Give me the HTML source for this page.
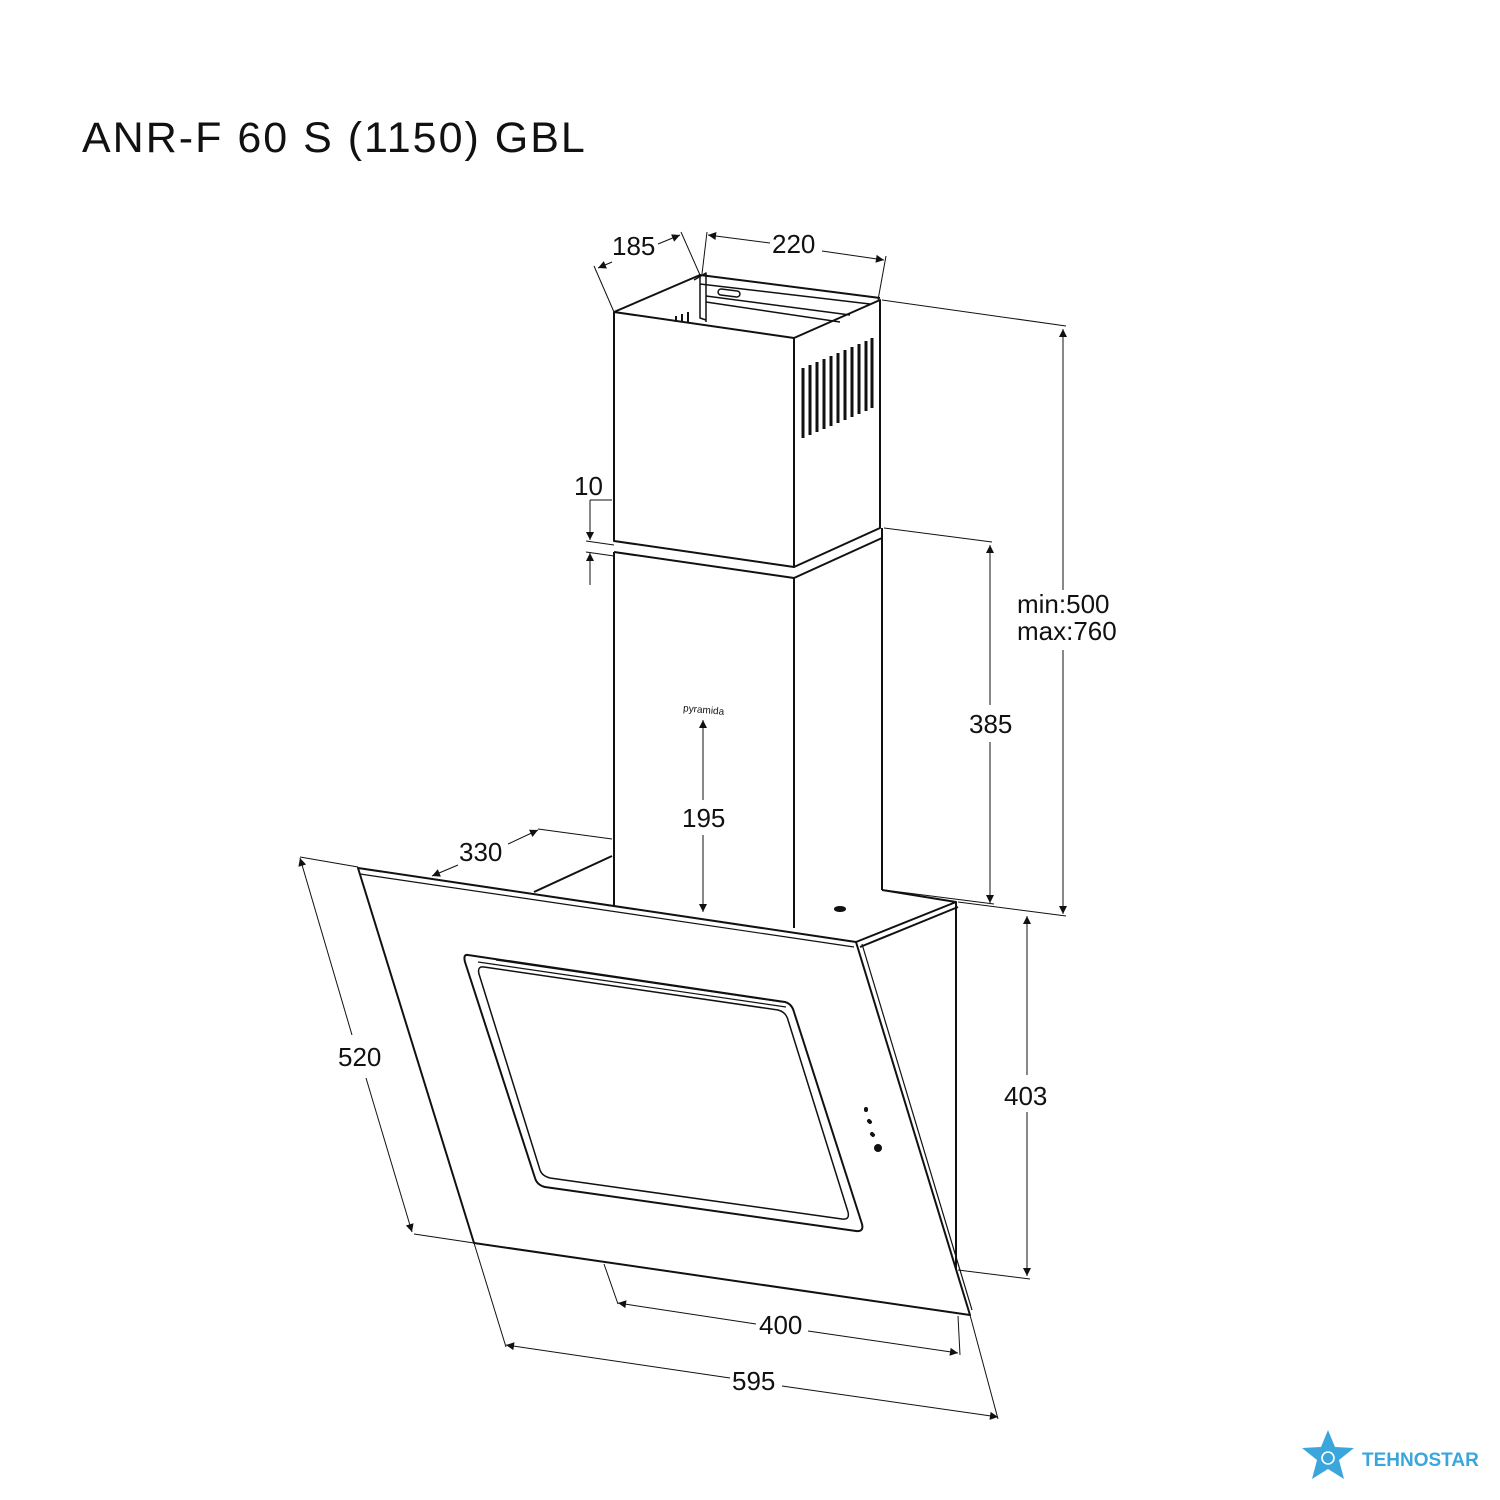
<!DOCTYPE html>
<html><head><style>
html,body{margin:0;padding:0;background:#fff;}
svg{display:block;}
text{font-family:"Liberation Sans",sans-serif;fill:#111;}
</style></head><body>
<svg width="1500" height="1500" viewBox="0 0 1500 1500" xmlns="http://www.w3.org/2000/svg">
<defs>
<marker id="a" viewBox="0 0 10 10" refX="10" refY="5" markerWidth="15" markerHeight="8" orient="auto-start-reverse" markerUnits="userSpaceOnUse"><path d="M0,0 L10,5 L0,10 z" fill="#111"/></marker>
</defs>
<text x="82" y="152" font-size="43" style="letter-spacing:2px">ANR-F 60 S (1150) GBL</text>

<g fill="none" stroke="#111" stroke-width="2" stroke-linejoin="round">
<polygon points="614,312 794,338 794,567 614,541"/>
<polygon points="794,338 880,300 880,528 794,567"/>
<polyline points="614,312 700,275 880,298"/>
<polyline points="700,275 700,318 706,320" stroke-width="1.5"/>
<polyline points="694,280 706,273 706,322" stroke-width="1.5"/>
<path d="M700,284 L870,304 M706,296 L850,315 M706,302 L840,322" stroke-width="1.5"/>
<rect x="718" y="290" width="22" height="6" rx="3" transform="rotate(7 729 293)" stroke-width="1.5"/>
<g stroke-width="3">
<path d="M803,368 V438 M810,365 V435 M817,362 V432 M824,359 V429 M831,356 V426 M838,353 V423 M845,350 V420 M852,347 V417 M859,344 V414 M866,341 V411 M872,338 V408"/>
<path d="M676,322 V316 M682,322 V314 M688,322 V312" stroke-width="2"/>
</g>
<polyline points="614,552 794,578 882,538"/>
<polyline points="882,528 882,538"/>
<line x1="614" y1="552" x2="614" y2="906"/>
<line x1="794" y1="578" x2="794" y2="928"/>
<line x1="882" y1="538" x2="882" y2="890"/>
<polyline points="534,892 612,856"/>
<polyline points="856,942 956,902 956,1270"/>
<polyline points="860,947 958,907"/>
<polyline points="882,890 956,902"/>
<polygon points="358,868 856,942 970,1315 474,1243"/>
<polyline points="360,874 854,947" stroke-width="1.2"/>
<polyline points="862,944 972,1310" stroke-width="1.2"/>
<path d="M468,955 L785,1002 Q792,1004 794,1012 L862,1224 Q864,1232 856,1231 L545,1187 Q537,1185 535,1178 L465,962 Q463,954 468,955 Z"/>
<path d="M484,967 L778,1010 Q786,1012 788,1020 L848,1212 Q850,1220 842,1219 L550,1178 Q542,1176 540,1170 L479,974 Q477,966 484,967 Z" stroke-width="1.5"/>
<path d="M478,962 L786,1007 M496,960 L782,1002" stroke-width="1.2"/>
<g stroke-width="4" stroke-linecap="round">
<path d="M866,1109 L866,1110 M869,1121 L870,1122 M872,1134 L873,1135"/>
<circle cx="878" cy="1148" r="2" fill="#111"/>
</g>
<ellipse cx="840" cy="909" rx="5" ry="2" fill="#111"/>
</g>

<g fill="none" stroke="#111" stroke-width="1">
<line x1="614" y1="312" x2="594" y2="266"/><line x1="700" y1="275" x2="681" y2="232"/>
<line x1="598" y1="268" x2="612" y2="262" marker-start="url(#a)"/><line x1="658" y1="244" x2="680" y2="235" marker-end="url(#a)"/>
<line x1="702" y1="274" x2="707" y2="232"/><line x1="878" y1="300" x2="886" y2="256"/>
<line x1="708" y1="235" x2="770" y2="243" marker-start="url(#a)"/><line x1="822" y1="251" x2="884" y2="260" marker-end="url(#a)"/>
<line x1="882" y1="300" x2="1066" y2="326"/><line x1="958" y1="902" x2="1066" y2="916"/>
<line x1="1063" y1="329" x2="1063" y2="590" marker-start="url(#a)"/><line x1="1063" y1="650" x2="1063" y2="914" marker-end="url(#a)"/>
<line x1="884" y1="528" x2="992" y2="542"/><line x1="884" y1="890" x2="994" y2="904"/>
<line x1="990" y1="545" x2="990" y2="705" marker-start="url(#a)"/><line x1="990" y1="742" x2="990" y2="903" marker-end="url(#a)"/>
<line x1="958" y1="1270" x2="1030" y2="1279"/>
<line x1="1027" y1="916" x2="1027" y2="1075" marker-start="url(#a)"/><line x1="1027" y1="1112" x2="1027" y2="1276" marker-end="url(#a)"/>
<line x1="590" y1="500" x2="612" y2="500"/><line x1="590" y1="500" x2="590" y2="540" marker-end="url(#a)"/>
<line x1="590" y1="585" x2="590" y2="553" marker-end="url(#a)"/>
<line x1="586" y1="541" x2="614" y2="545"/><line x1="586" y1="552" x2="614" y2="556"/>
<line x1="703" y1="800" x2="703" y2="720" marker-end="url(#a)"/><line x1="703" y1="835" x2="703" y2="912" marker-end="url(#a)"/>
<line x1="538" y1="829" x2="612" y2="839"/>
<line x1="432" y1="876" x2="458" y2="865" marker-start="url(#a)"/><line x1="508" y1="844" x2="538" y2="830" marker-end="url(#a)"/>
<line x1="300" y1="857" x2="358" y2="867"/><line x1="414" y1="1234" x2="474" y2="1243"/>
<line x1="300" y1="858" x2="352" y2="1035" marker-start="url(#a)"/><line x1="366" y1="1078" x2="412" y2="1232" marker-end="url(#a)"/>
<line x1="604" y1="1264" x2="618" y2="1304"/><line x1="958" y1="1316" x2="960" y2="1355"/>
<line x1="618" y1="1303" x2="756" y2="1324" marker-start="url(#a)"/><line x1="808" y1="1331" x2="958" y2="1353" marker-end="url(#a)"/>
<line x1="474" y1="1243" x2="506" y2="1347"/><line x1="970" y1="1315" x2="998" y2="1419"/>
<line x1="506" y1="1345" x2="730" y2="1378" marker-start="url(#a)"/><line x1="782" y1="1386" x2="998" y2="1417" marker-end="url(#a)"/>
</g>

<g font-size="26">
<text x="612" y="255">185</text>
<text x="772" y="253">220</text>
<text x="1017" y="613">min:500</text>
<text x="1017" y="640">max:760</text>
<text x="969" y="733">385</text>
<text x="1004" y="1105">403</text>
<text x="574" y="495">10</text>
<text x="682" y="827">195</text>
<text x="459" y="861">330</text>
<text x="338" y="1066">520</text>
<text x="759" y="1334">400</text>
<text x="732" y="1390">595</text>
</g>
<text x="683" y="713" font-size="10" transform="rotate(5 703 711)">pyramida</text>

<g transform="translate(1328,1456)">
<polygon points="0,-26 7,-9 26,-8 11,4 16,23 0,13 -16,23 -11,4 -26,-8 -7,-9" fill="#3aa6dc"/>
<circle cx="0" cy="2" r="6" fill="none" stroke="#fff" stroke-width="1.6"/>
</g>
<text x="1362" y="1466" font-size="19" font-weight="bold" style="fill:#3aa6dc">TEHNOSTAR</text>
</svg>
</body></html>
